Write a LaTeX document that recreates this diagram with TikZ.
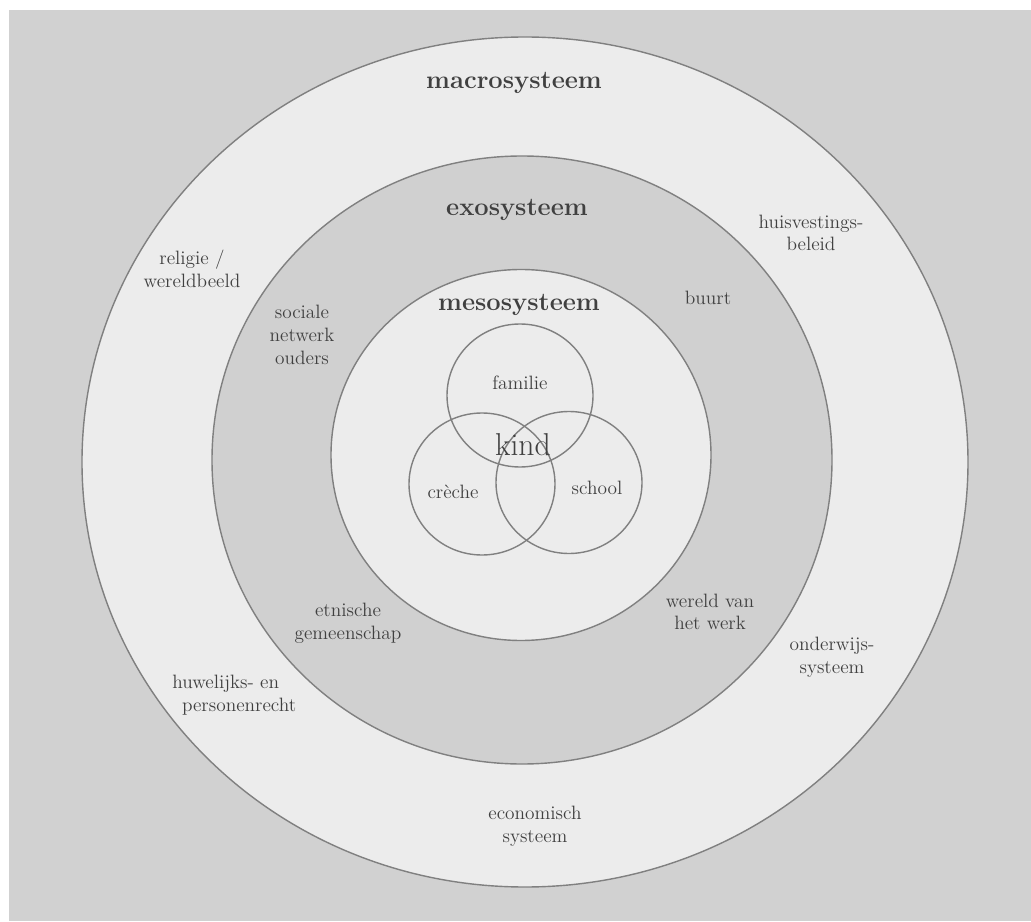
\documentclass[tikz,border=0pt]{standalone}
\usepackage{tikz}
\definecolor{achtergrond}{gray}{0.82}
\definecolor{licht}{gray}{0.925}
\definecolor{donker}{gray}{0.815}
\definecolor{lijn}{gray}{0.5}
\definecolor{inkt}{gray}{0.25}
\tikzset{
  ring/.style={draw=lijn, line width=0.8pt},
  tekst/.style={text=inkt, font=\fontsize{11}{12.9}\selectfont, align=center, inner sep=0pt},
  kop/.style={text=inkt, font=\fontsize{14.5}{17}\selectfont\bfseries, inner sep=0pt}
}
\begin{document}
\begin{tikzpicture}
\useasboundingbox (-10.5, -9.18) rectangle (10.12, 9.24);
\fill[white] (-10.5, -9.18) rectangle (10.12, 9.24);
\fill[achtergrond] (-10.32, -9.18) rectangle (10.12, 9.04);
% de drie systemen
\draw[ring, fill=licht] (0, 0) ellipse [x radius=8.86, y radius=8.5];
\draw[ring, fill=donker] (-0.06, 0.04) ellipse [x radius=6.2, y radius=6.08];
\draw[ring, fill=licht] (-0.08, 0.14) ellipse [x radius=3.8, y radius=3.71];
% microsysteem
\draw[ring] (-0.1, 1.33) ellipse [x radius=1.46, y radius=1.43];
\draw[ring] (-0.86, -0.44) ellipse [x radius=1.46, y radius=1.42];
\draw[ring] (0.88, -0.41) ellipse [x radius=1.46, y radius=1.42];
\node[kop] (macro) at (-0.22, 7.58) {macrosysteem};
\node[kop] (exo) at (-0.16, 5.04) {exosysteem};
\node[kop] (meso) at (-0.12, 3.14) {mesosysteem};
\node[tekst] (familie) at (-0.1, 1.58) {familie};
\node[text=inkt, font=\fontsize{18}{20}\selectfont, inner sep=0pt] (kind) at (-0.04, 0.34) {kind};
\node[tekst] (creche) at (-1.44, -0.6) {crèche};
\node[tekst] (school) at (1.44, -0.52) {school};
\node[tekst] (religie) at (-6.66, 3.86) {religie /\\wereldbeeld};
\node[tekst] (sociaal) at (-4.46, 2.54) {sociale\\netwerk\\ouders};
\node[tekst] (huisvesting) at (5.72, 4.58) {huisvestings-\\beleid};
\node[tekst] (buurt) at (3.66, 3.28) {buurt};
\node[tekst, align=left, anchor=west] (recht) at (-7.06, -4.66) {huwelijks- en\\\hspace*{5.5pt}personenrecht};
\node[tekst] (etnisch) at (-3.54, -3.22) {etnische\\gemeenschap};
\node[tekst] (werk) at (3.7, -3.0) {wereld van\\het werk};
\node[tekst] (onderwijs) at (6.14, -3.9) {onderwijs-\\systeem};
\node[tekst] (economie) at (0.2, -7.28) {economisch\\systeem};
\end{tikzpicture}
\end{document}
